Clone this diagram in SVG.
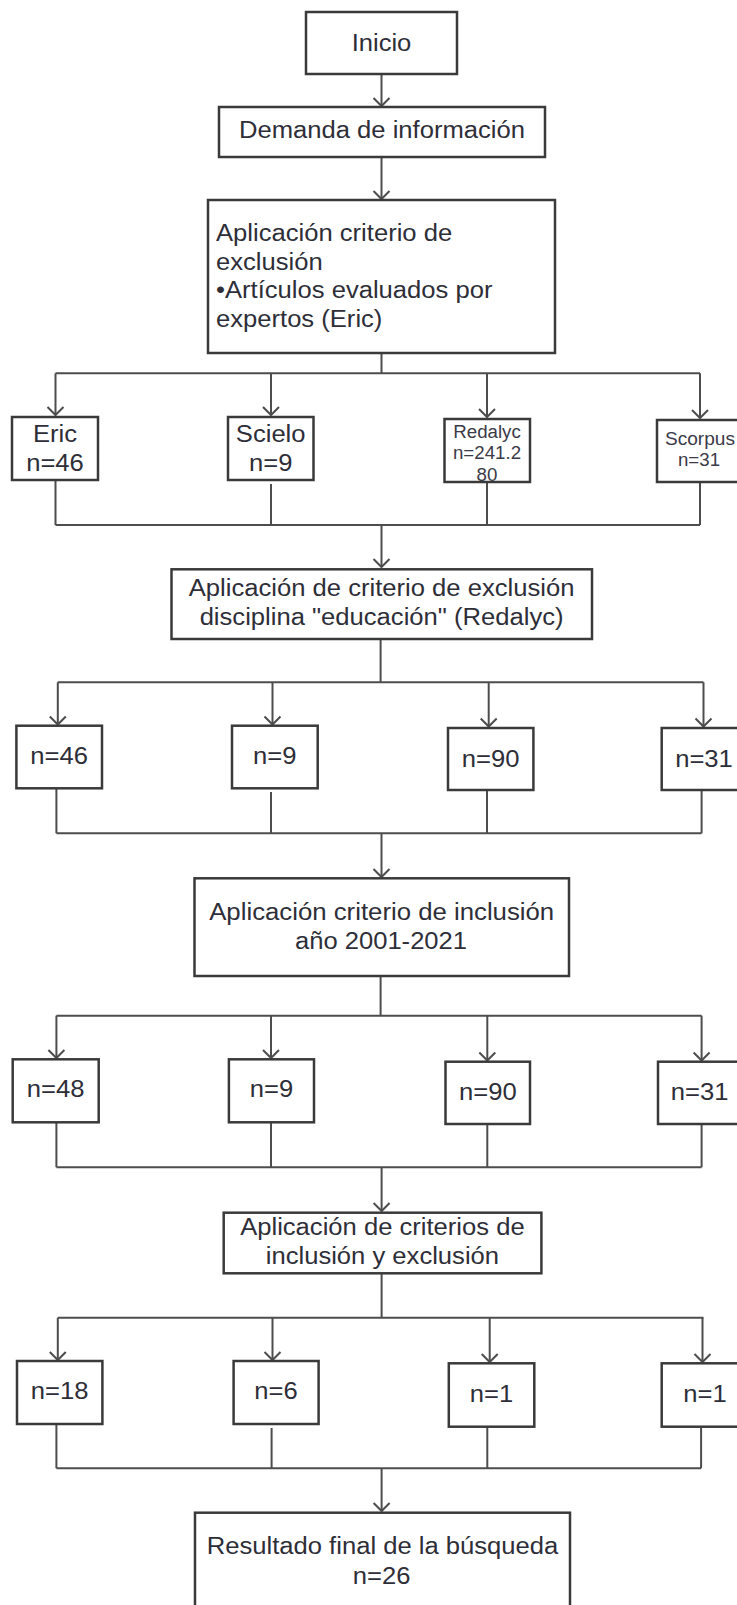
<svg xmlns="http://www.w3.org/2000/svg" width="737" height="1605" viewBox="0 0 737 1605">
<style>
.box{fill:#fff;stroke:#3a3a3a;stroke-width:2.5}
.t{font-family:"Liberation Sans",Arial,sans-serif;font-size:23px;fill:#2e2e38;text-anchor:middle}
.s{font-size:18px;fill:#3a3a48}
.l{text-anchor:start}
.c{fill:none;stroke:#4d4d4d;stroke-width:2}
</style>
<defs>
<marker id="ah" markerUnits="userSpaceOnUse" markerWidth="20" markerHeight="20" viewBox="-10 -10 20 20" refX="0" refY="0" orient="auto" overflow="visible">
<path d="M-8,-8 L0,0 L-8,8" fill="none" stroke="#4d4d4d" stroke-width="2"/>
</marker>
</defs>
<rect width="737" height="1605" fill="#fff"/>
<g id="connectors" class="c">
<path d="M381.5,74 V106" marker-end="url(#ah)"/>
<path d="M381.5,157 V199" marker-end="url(#ah)"/>
<path d="M381.5,353 V373.3 M55.5,373.3 H700"/>
<path d="M55.5,373.3 V415" marker-end="url(#ah)"/>
<path d="M271,373.3 V415" marker-end="url(#ah)"/>
<path d="M487,373.3 V417" marker-end="url(#ah)"/>
<path d="M700,373.3 V418" marker-end="url(#ah)"/>
<path d="M55.5,480 V525 M271,484 V525 M487,482 V525 M700,482 V525 M55.5,525 H700"/>
<path d="M381.5,525 V567" marker-end="url(#ah)"/>
<path d="M380.6,639 V682.3 M57.8,682.3 H703.5"/>
<path d="M57.8,682.3 V724.5" marker-end="url(#ah)"/>
<path d="M272.5,682.3 V724.5" marker-end="url(#ah)"/>
<path d="M488.7,682.3 V726.5" marker-end="url(#ah)"/>
<path d="M703.5,682.3 V726.5" marker-end="url(#ah)"/>
<path d="M56.4,788 V833.3 M271,792 V833.3 M487,790 V833.3 M701.6,790 V833.3 M56.4,833.3 H701.6"/>
<path d="M381.5,833.3 V877" marker-end="url(#ah)"/>
<path d="M380.6,976 V1015.7 M56.4,1015.7 H701.6"/>
<path d="M56.4,1015.7 V1058" marker-end="url(#ah)"/>
<path d="M271,1015.7 V1058" marker-end="url(#ah)"/>
<path d="M487.3,1015.7 V1060.5" marker-end="url(#ah)"/>
<path d="M701.6,1015.7 V1060.5" marker-end="url(#ah)"/>
<path d="M56.4,1122 V1167.3 M271,1122 V1167.3 M487.3,1124 V1167.3 M701.6,1124 V1167.3 M56.4,1167.3 H701.6"/>
<path d="M381.6,1167.3 V1211" marker-end="url(#ah)"/>
<path d="M381.6,1273.3 V1317.7 M57.8,1317.7 H703.5"/>
<path d="M57.8,1317.7 V1360" marker-end="url(#ah)"/>
<path d="M272.5,1317.7 V1360" marker-end="url(#ah)"/>
<path d="M489.7,1317.7 V1362" marker-end="url(#ah)"/>
<path d="M702.5,1317.7 V1362" marker-end="url(#ah)"/>
<path d="M56.4,1424 V1468.3 M271.6,1428 V1468.3 M487.3,1426.7 V1468.3 M701.1,1426.7 V1468.3 M56.4,1468.3 H701.1"/>
<path d="M381.6,1468.3 V1511" marker-end="url(#ah)"/>
</g>
<g id="inicio"><rect class="box" x="306" y="12" width="151" height="62"/>
<text class="t" x="381.5" y="50.5" textLength="59.7" lengthAdjust="spacingAndGlyphs">Inicio</text></g>
<g id="demanda"><rect class="box" x="219" y="107" width="326" height="50"/>
<text class="t" x="382" y="138" textLength="286" lengthAdjust="spacingAndGlyphs">Demanda de información</text></g>
<g id="exclusion1"><rect class="box" x="208" y="200" width="347" height="153"/>
<text class="t l" x="216" y="241" textLength="236.2" lengthAdjust="spacingAndGlyphs">Aplicación criterio de</text>
<text class="t l" x="216" y="269.5" textLength="106.7" lengthAdjust="spacingAndGlyphs">exclusión</text>
<text class="t l" x="216" y="298" textLength="276.5" lengthAdjust="spacingAndGlyphs">•Artículos evaluados por</text>
<text class="t l" x="216" y="327" textLength="166.4" lengthAdjust="spacingAndGlyphs">expertos (Eric)</text></g>
<g id="eric"><rect class="box" x="12" y="417" width="86" height="63"/>
<text class="t" x="55" y="441.5" textLength="44.1" lengthAdjust="spacingAndGlyphs">Eric</text>
<text class="t" x="55" y="470.5" textLength="57.7" lengthAdjust="spacingAndGlyphs">n=46</text></g>
<g id="scielo"><rect class="box" x="228" y="417" width="85.5" height="63"/>
<text class="t" x="270.7" y="441.5" textLength="69.7" lengthAdjust="spacingAndGlyphs">Scielo</text>
<text class="t" x="270.7" y="470.5" textLength="43.4" lengthAdjust="spacingAndGlyphs">n=9</text></g>
<g id="redalyc"><rect class="box" x="444.5" y="419" width="85.5" height="63"/>
<text class="t s" x="487" y="438" textLength="67.5" lengthAdjust="spacingAndGlyphs">Redalyc</text>
<text class="t s" x="487" y="459.3" textLength="68.1" lengthAdjust="spacingAndGlyphs">n=241.2</text>
<text class="t s" x="487" y="481.3" textLength="20.8" lengthAdjust="spacingAndGlyphs">80</text></g>
<g id="scorpus"><rect class="box" x="657" y="420" width="84" height="62"/>
<text class="t s" x="700" y="444.6" textLength="70" lengthAdjust="spacingAndGlyphs">Scorpus</text>
<text class="t s" x="699" y="466" textLength="42" lengthAdjust="spacingAndGlyphs">n=31</text></g>
<g id="exclusion2"><rect class="box" x="171.5" y="569.3" width="420.5" height="69.7"/>
<text class="t" x="381.6" y="596.3" textLength="385.6" lengthAdjust="spacingAndGlyphs">Aplicación de criterio de exclusión</text>
<text class="t" x="381.6" y="625.3" textLength="363.9" lengthAdjust="spacingAndGlyphs">disciplina "educación" (Redalyc)</text></g>
<g id="r2a"><rect class="box" x="16.4" y="725.7" width="85.6" height="62.6"/>
<text class="t" x="59.2" y="763.6" textLength="57.7" lengthAdjust="spacingAndGlyphs">n=46</text></g>
<g id="r2b"><rect class="box" x="232" y="725.7" width="85.7" height="62.6"/>
<text class="t" x="274.8" y="763.6" textLength="43.4" lengthAdjust="spacingAndGlyphs">n=9</text></g>
<g id="r2c"><rect class="box" x="448" y="728" width="85.4" height="62"/>
<text class="t" x="490.7" y="767" textLength="57.7" lengthAdjust="spacingAndGlyphs">n=90</text></g>
<g id="r2d"><rect class="box" x="661.7" y="728" width="80" height="62"/>
<text class="t" x="704" y="767" textLength="57.7" lengthAdjust="spacingAndGlyphs">n=31</text></g>
<g id="inclusion"><rect class="box" x="194.5" y="878.3" width="374.5" height="97.7"/>
<text class="t" x="381.7" y="919.6" textLength="345" lengthAdjust="spacingAndGlyphs">Aplicación criterio de inclusión</text>
<text class="t" x="381" y="948.6" textLength="172" lengthAdjust="spacingAndGlyphs">año 2001-2021</text></g>
<g id="r3a"><rect class="box" x="12.7" y="1059.3" width="86" height="63"/>
<text class="t" x="55.7" y="1097" textLength="57.7" lengthAdjust="spacingAndGlyphs">n=48</text></g>
<g id="r3b"><rect class="box" x="228.9" y="1059.3" width="85.1" height="63"/>
<text class="t" x="271.5" y="1097" textLength="43.4" lengthAdjust="spacingAndGlyphs">n=9</text></g>
<g id="r3c"><rect class="box" x="445.5" y="1061.7" width="84.5" height="62.3"/>
<text class="t" x="487.8" y="1099.6" textLength="57.7" lengthAdjust="spacingAndGlyphs">n=90</text></g>
<g id="r3d"><rect class="box" x="658" y="1061.7" width="84" height="62.3"/>
<text class="t" x="699.7" y="1099.6" textLength="57.7" lengthAdjust="spacingAndGlyphs">n=31</text></g>
<g id="criterios"><rect class="box" x="223.7" y="1212.7" width="317.7" height="60.6"/>
<text class="t" x="382.4" y="1235.3" textLength="284.5" lengthAdjust="spacingAndGlyphs">Aplicación de criterios de</text>
<text class="t" x="382.4" y="1263.6" textLength="233.3" lengthAdjust="spacingAndGlyphs">inclusión y exclusión</text></g>
<g id="r4a"><rect class="box" x="17" y="1361" width="85.4" height="63"/>
<text class="t" x="59.7" y="1399.3" textLength="57.7" lengthAdjust="spacingAndGlyphs">n=18</text></g>
<g id="r4b"><rect class="box" x="233.6" y="1361" width="85" height="63"/>
<text class="t" x="276" y="1399.3" textLength="43.4" lengthAdjust="spacingAndGlyphs">n=6</text></g>
<g id="r4c"><rect class="box" x="448.8" y="1363.3" width="85.5" height="63.4"/>
<text class="t" x="491.5" y="1402" textLength="43.4" lengthAdjust="spacingAndGlyphs">n=1</text></g>
<g id="r4d"><rect class="box" x="661.7" y="1363.3" width="80" height="63.4"/>
<text class="t" x="705" y="1402" textLength="43.4" lengthAdjust="spacingAndGlyphs">n=1</text></g>
<g id="resultado"><rect class="box" x="195" y="1512.7" width="375" height="100"/>
<text class="t" x="382.5" y="1554.3" textLength="351.5" lengthAdjust="spacingAndGlyphs">Resultado final de la búsqueda</text>
<text class="t" x="381.6" y="1583.6" textLength="57.7" lengthAdjust="spacingAndGlyphs">n=26</text></g>
</svg>
